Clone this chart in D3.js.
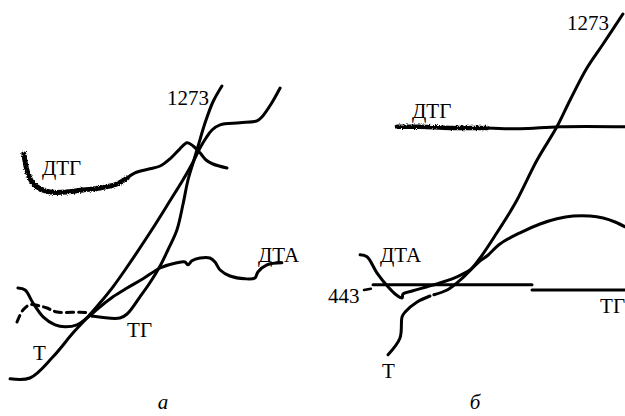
<!DOCTYPE html>
<html>
<head>
<meta charset="utf-8">
<script src="https://cdn.jsdelivr.net/npm/d3@7/dist/d3.min.js"></script>
<style>
  html, body { margin: 0; padding: 0; background: #fff; }
  svg { display: block; }
  svg text { font-family: "Liberation Serif", "Times New Roman", Times, "DejaVu Serif", serif; }
</style>
</head>
<body>
<svg id="chart" width="625" height="416"></svg>
<script>
// Derivatograms: two panels (а, б), each with T, ТГ, ДТГ and ДТА traces.
// Points are [time, signal] in relative units (0..100) on each panel.

// ---- Panel а ----
const aT = [[1.7,5.3],[8.3,5.5],[16,10.8],[22.7,16.8],[27.3,20.5],[31.7,24.3],[36,28.3],[40,32.5],
  [48.3,41.8],[55,49.8],[59.3,55],[62.7,59.5],[65,63],[67,65.5],[69,67.5],[71.7,68.8],[78.3,69.3],
  [84,69.8],[85.7,70.8],[88.7,74],[91.7,78]];
const aTGstart = [[4,19.5],[6,22.5],[8.3,23.8],[11.7,23.5],[14,23],[17.3,22],[27.3,21.8],[29,21]];
const aTG = [[29,21],[38.3,20.5],[40.7,21.5],[45,25.8],[48.3,29.3],[51.7,33.5],[54.3,37.5],[57.3,42.5],
  [59.3,48.8],[61,55],[62.7,59.3],[64.3,63.3],[66.7,69.3],[69.3,74.5],[72.3,78.5]];
const aDTA = [[4.3,28],[6.7,27.5],[9.3,24.3],[12.7,20.8],[16.7,18.8],[20,18.3],[24,18.8],[27.3,20.5],
  [31.7,23.3],[36,25.8],[40.7,28],[46,30.3],[51.7,33],[57.3,34.3],[60,34.5],[61,33.8],[62.3,34.8],
  [65,35.5],[68.3,35.5],[70,34.5],[71.7,32.5],[75,31],[80,30.3],[83.3,30.5],[84.3,32],[87.3,33.8],[92.3,34.3]];
const aDTGrough = [[6.3,61.5],[7.3,57.5],[9,54.5],[11.7,52.8],[15,52],[20.7,52],[26,52.5],[31.7,53],
  [37.3,54],[40.7,55.5]];
const aDTG = [[40.7,55.5],[43.3,56.8],[48.3,57.8],[51.7,58.5],[55,60.3],[58.3,62.8],[60.7,64.3],
  [62.7,63.5],[65,61.8],[67,60],[69.3,59],[74,58]];

// ---- Panel б ----
const bT1 = [[21,11.3],[25,15.5],[25.7,20.8],[26.7,22],[30.7,24.5],[35,26]];
const bT2 = [[36.3,26.3],[40.7,27.5],[44,29.3],[48.3,32.3],[51.7,35.5],[57.3,41.8],[60.7,45.8],[64,50],
  [70.7,60],[77.3,68.3],[81.7,75],[87.3,83],[92.7,89],[99.3,96.5]];
const bDTA = [[11.7,36.3],[14,35.8],[17.3,31.8],[21,28.3],[23.7,26.3],[25.7,25.5],[26,26.5],[29.3,27.3],
  [34,28.3],[39.3,29.5],[44,30.8],[48.3,32.5],[51.7,34.8],[54,36],[58.3,39],[65,41.8],[71.7,44],
  [77.3,45.3],[82.7,46],[88.3,46],[92.7,45.5],[96.7,44.5],[100,43.3]];
const bTGtick = [[13,27.5],[15.3,27.8]];
const bTG1 = [[16,28.8],[69,28.8]];
const bTG2 = [[69,27.5],[100,27.5]];
const bDTGrough = [[24,68.3],[31.7,68.3],[41.7,68],[54,68]];
const bDTG = [[54,68],[65,67.8],[78.3,68.3],[100,68.3]];

// Text labels: [text, x, y] in the same units
const aLabels = [["1273",54,73.8],["ДТГ",12.3,56.3],["ДТА",84.3,34.5],["Т",9.3,10],["ТГ",40.7,15.8]];
const bLabels = [["1273",80.7,92.5],["ДТГ",29,70.5],["ДТА",18.3,34.5],["443",1,24.3],["Т",19,5.5],["ТГ",91.7,21.8]];
const captions = [["а",52.7,-2.3],["б",50,-2.3]];

const svg = d3.select("#chart");

// grainy pen texture for the ДТГ start
const defs = svg.append("defs");
const f = defs.append("filter").attr("id","grain").attr("filterUnits","userSpaceOnUse")
  .attr("x",0).attr("y",0).attr("width",625).attr("height",416);
f.append("feTurbulence").attr("type","fractalNoise").attr("baseFrequency","0.9").attr("numOctaves",2).attr("seed",3).attr("result","n");
f.append("feDisplacementMap").attr("in","SourceGraphic").attr("in2","n").attr("scale",3.5)
  .attr("xChannelSelector","R").attr("yChannelSelector","G");

const y = d3.scaleLinear().domain([0,100]).range([400,0]);
const xa = d3.scaleLinear().domain([0,100]).range([5,305]);
const xb = d3.scaleLinear().domain([0,100]).range([325,625]);

function trace(x, data, opts = {}) {
  const line = d3.line().x(d => x(d[0])).y(d => y(d[1]))
    .curve(opts.linear ? d3.curveLinear : d3.curveCatmullRom.alpha(0.5));
  const p = svg.append("path").datum(data).attr("d", line)
    .attr("fill","none").attr("stroke","#000")
    .attr("stroke-width", opts.w || 3)
    .attr("stroke-linecap","round").attr("stroke-linejoin","round");
  if (opts.dash) p.attr("stroke-dasharray", opts.dash);
  if (opts.grain) p.attr("filter","url(#grain)");
  return p;
}

// panel а
trace(xa, aT);
trace(xa, aTGstart, {dash: "7,5"});
trace(xa, aTG);
trace(xa, aDTA);
trace(xa, aDTGrough, {w: 5, grain: true});
trace(xa, aDTG);

// panel б
trace(xb, bT1);
trace(xb, bT2);
trace(xb, bDTA);
trace(xb, bTGtick, {linear: true, w: 2.5});
trace(xb, bTG1, {linear: true});
trace(xb, bTG2, {linear: true});
trace(xb, bDTGrough, {w: 4.5, grain: true});
trace(xb, bDTG, {w: 3});

function labels(x, list) {
  svg.append("g").selectAll("text").data(list).join("text")
    .attr("x", d => x(d[1])).attr("y", d => y(d[2]))
    .style("font-size", "21px").attr("fill", "#000").text(d => d[0]);
}
labels(xa, aLabels);
labels(xb, bLabels);

[[xa, captions[0]], [xb, captions[1]]].forEach(([x, c]) => {
  svg.append("text").attr("x", x(c[1])).attr("y", y(c[2]))
    .attr("text-anchor","middle").style("font-size","21px")
    .style("font-style","italic").attr("fill","#000").text(c[0]);
});
</script>
</body>
</html>
